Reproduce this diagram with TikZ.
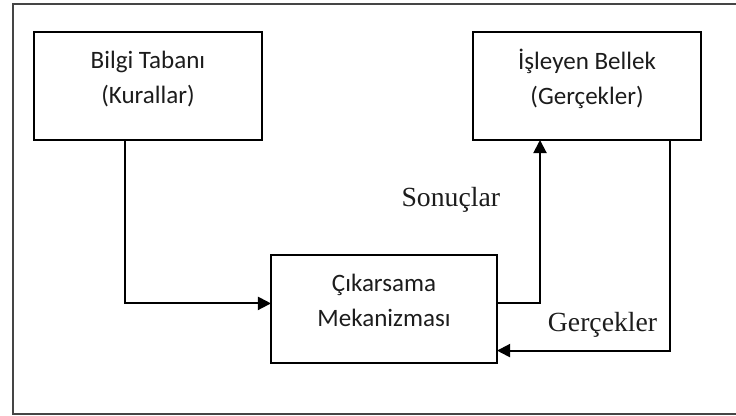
\documentclass[tikz,border=0pt]{standalone}
\usepackage{fontspec}
\setmainfont{Liberation Serif}
\newfontfamily\boxfont{Carlito}
\usetikzlibrary{positioning, arrows.meta}
\definecolor{Frame}{HTML}{454545}
\definecolor{Ink}{HTML}{1C1C1C}

\begin{document}
\begin{tikzpicture}[
    box/.style={draw=black, line width=1.4pt, minimum width=5.7cm, minimum height=2.7cm, inner sep=0pt, outer sep=0pt},
    boxtext/.style={align=center, font=\boxfont\fontsize{17.8}{24.9}\selectfont, text=Ink},
    lbl/.style={font=\fontsize{19.7}{24}\selectfont, text=Ink},
    arr/.style={-{Triangle[length=0.33cm, width=0.33cm]}, line width=1.4pt}
]
\useasboundingbox (-3.7,2.15) rectangle (14.7,-8.25);
\clip (-3.7,2.15) rectangle (14.7,-8.25);

% Outer frame
\draw[Frame, line width=1.8pt] (-3.375,2.05) rectangle (15,-8.2);

% Boxes
\node[box] (kb) {};
\node[box, right=5.275cm of kb] (wm) {};
\node[box, minimum width=5.65cm, below right=2.875cm and 0.225cm of kb] (ie) {};

\node[boxtext] (kbtext) at ([yshift=0.18cm]kb.center) {Bilgi Tabanı\\(Kurallar)};
\node[boxtext] (wmtext) at ([yshift=0.18cm]wm.center) {İşleyen Bellek\\(Gerçekler)};
\node[boxtext] (ietext) at ([yshift=0.22cm]ie.center) {Çıkarsama\\Mekanizması};

% Connectors
\draw[arr] ([xshift=-0.575cm]kb.south) |- ([yshift=0.14cm]ie.west);
\draw[arr] ([yshift=0.16cm]ie.east) -| ([xshift=-1.175cm]wm.south);
\draw[arr] ([xshift=2.075cm]wm.south) |- ([yshift=-1.04cm]ie.east);

% Labels
\node[lbl, anchor=base east] (sonuc) at (8.925,-3.025) {Sonuçlar};
\node[lbl, anchor=base west] (gercek) at (9.875,-6.125) {Gerçekler};

\end{tikzpicture}
\end{document}
